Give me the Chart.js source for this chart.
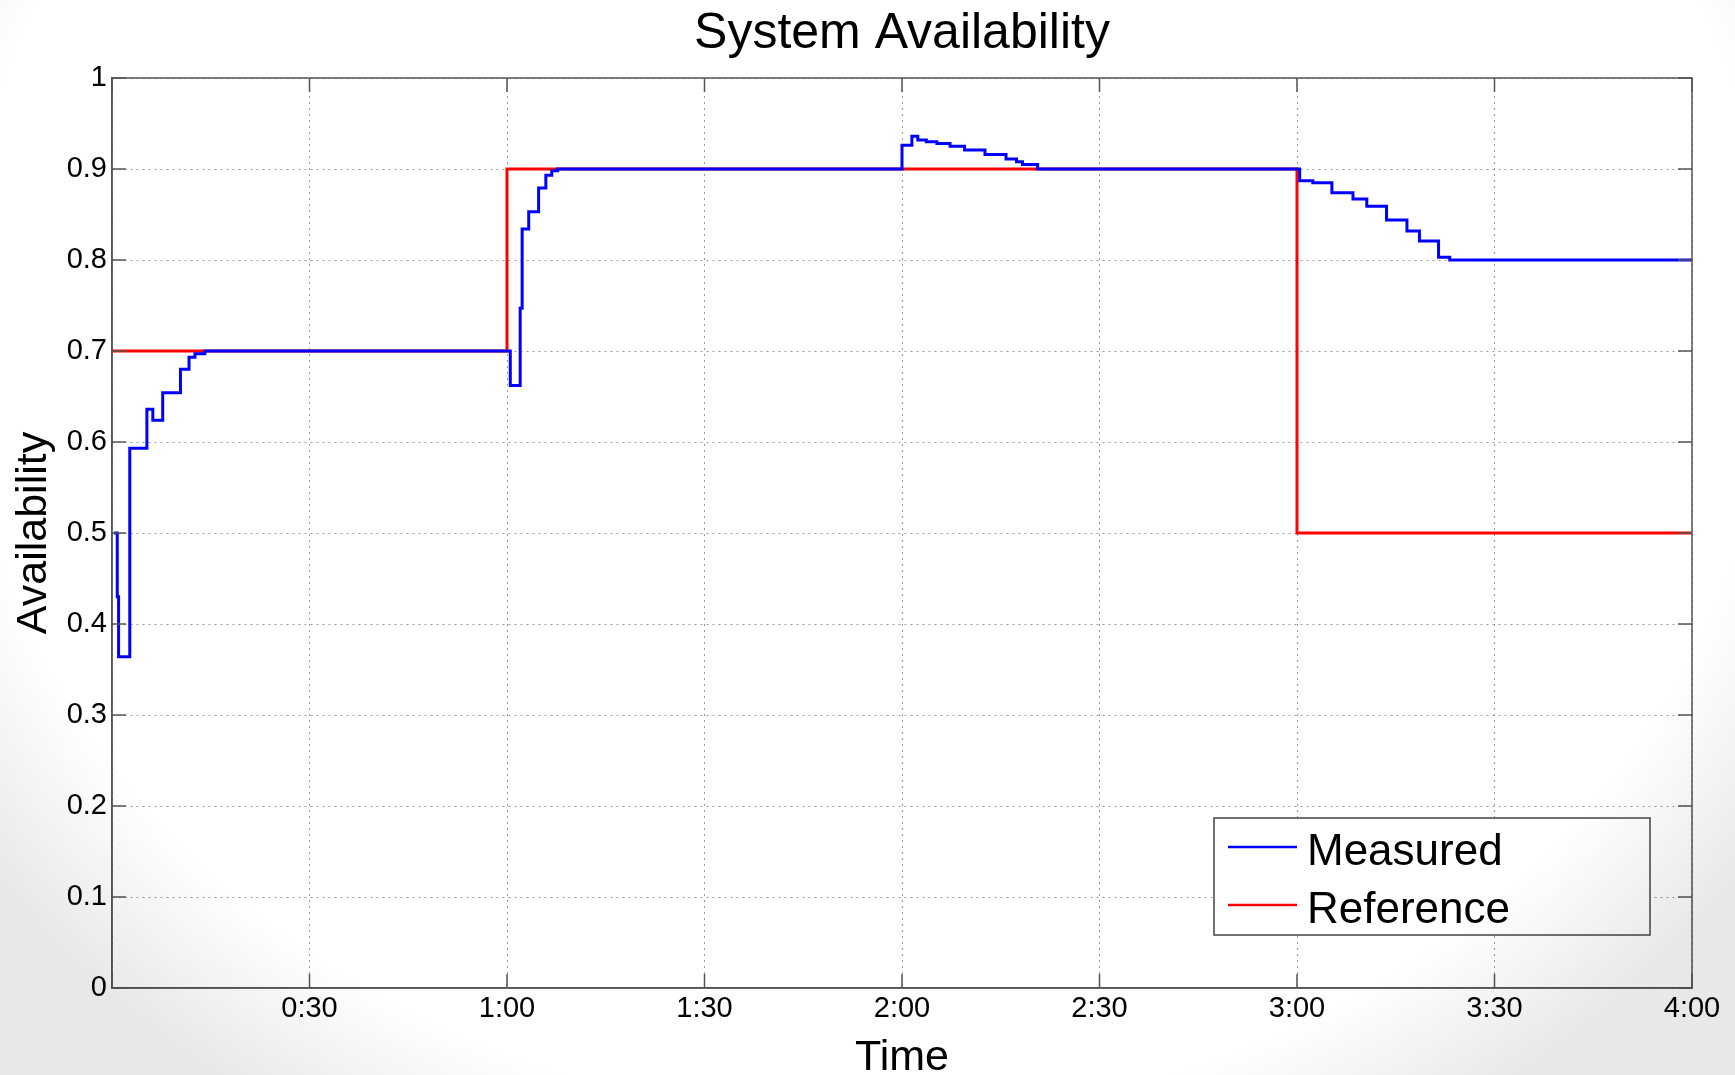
<!DOCTYPE html>
<html>
<head>
<meta charset="utf-8">
<script src="https://cdn.jsdelivr.net/npm/chart.js@4.4.1/dist/chart.umd.min.js"></script>
<style>
  html, body { margin: 0; padding: 0; background: #fff; }
  #wrap { position: relative; width: 1735px; height: 1075px; }
  #shade {
    position: absolute; left: 0; top: 0; width: 1735px; height: 1075px; pointer-events: none;
    background: radial-gradient(ellipse 62% 88% at 50% 30%, rgba(0,0,0,0) 84%, rgba(0,0,0,0.09) 100%);
    mix-blend-mode: multiply;
  }
</style>
</head>
<body>
<div id="wrap">
  <canvas id="availChart" width="1735" height="1075"></canvas>
  <div id="shade"></div>
</div>
<script>
// time in minutes, availability values
const measuredTimes = [0.3, 0.8, 1.0, 2.7, 5.3, 6.2, 7.7, 10.4, 11.7, 12.6, 14.1,
  60.5, 62.0, 62.3, 63.3, 64.8, 65.9, 66.8, 67.7,
  120.0, 121.5, 122.4, 123.7, 125.3, 127.3, 129.5, 132.6, 135.8, 137.4, 138.3, 140.6,
  180.4, 182.4, 185.3, 188.5, 190.6, 193.6, 196.7, 198.6, 201.5, 203.2, 240];
const measuredValues = [0.50, 0.43, 0.364, 0.593, 0.636, 0.624, 0.654, 0.680, 0.693, 0.697, 0.700,
  0.662, 0.747, 0.834, 0.853, 0.879, 0.893, 0.898, 0.900,
  0.926, 0.936, 0.932, 0.930, 0.928, 0.925, 0.921, 0.916, 0.911, 0.908, 0.905, 0.900,
  0.887, 0.885, 0.874, 0.867, 0.859, 0.844, 0.832, 0.821, 0.803, 0.800, 0.800];

const referenceTimes = [0, 60, 180, 240];
const referenceValues = [0.7, 0.9, 0.5, 0.5];

const timeTicks = [0, 30, 60, 90, 120, 150, 180, 210, 240];
const timeLabels = ["", "0:30", "1:00", "1:30", "2:00", "2:30", "3:00", "3:30", "4:00"];

const FONT = '"Liberation Sans", Arial, Helvetica, sans-serif';

function toPoints(xs, ys) {
  return xs.map((x, i) => ({ x: x, y: ys[i] }));
}

// box around the plot with inward tick marks on every side
const boxPlugin = {
  id: "box",
  afterDraw(chart) {
    const { ctx, chartArea: a, scales } = chart;
    const len = 14;
    ctx.save();
    ctx.strokeStyle = "#555";
    ctx.lineWidth = 1.5;
    ctx.strokeRect(a.left, a.top, a.right - a.left, a.bottom - a.top);
    ctx.beginPath();
    scales.x.ticks.forEach((t) => {
      const px = scales.x.getPixelForValue(t.value);
      ctx.moveTo(px, a.bottom); ctx.lineTo(px, a.bottom - len);
      ctx.moveTo(px, a.top); ctx.lineTo(px, a.top + len);
    });
    scales.y.ticks.forEach((t) => {
      const py = scales.y.getPixelForValue(t.value);
      ctx.moveTo(a.left, py); ctx.lineTo(a.left + len, py);
      ctx.moveTo(a.right, py); ctx.lineTo(a.right - len, py);
    });
    ctx.stroke();
    ctx.restore();
  }
};

// matlab style legend inside the lower right corner
const legendBoxPlugin = {
  id: "legendBox",
  afterDraw(chart) {
    const { ctx, chartArea: a } = chart;
    const w = 436, h = 117;
    const x = a.right - 42 - w;
    const y = a.bottom - 53 - h;
    ctx.save();
    ctx.fillStyle = "#fff";
    ctx.fillRect(x, y, w, h);
    ctx.strokeStyle = "#444";
    ctx.lineWidth = 1.5;
    ctx.strokeRect(x, y, w, h);
    ctx.font = "44px " + FONT;
    ctx.textBaseline = "alphabetic";
    ctx.fillStyle = "#000";
    chart.data.datasets.forEach((ds, i) => {
      const ly = y + 29 + i * 58;
      ctx.strokeStyle = ds.borderColor;
      ctx.lineWidth = 2.5;
      ctx.beginPath();
      ctx.moveTo(x + 14, ly);
      ctx.lineTo(x + 83, ly);
      ctx.stroke();
      ctx.fillText(ds.label, x + 93, ly + 18);
    });
    ctx.restore();
  }
};

new Chart(document.getElementById("availChart"), {
  type: "line",
  data: {
    datasets: [
      {
        label: "Measured",
        data: toPoints(measuredTimes, measuredValues),
        borderColor: "#0000ff",
        borderWidth: 3,
        stepped: "before",
        pointRadius: 0,
        fill: false
      },
      {
        label: "Reference",
        data: toPoints(referenceTimes, referenceValues),
        borderColor: "#ff0000",
        borderWidth: 3,
        stepped: "before",
        pointRadius: 0,
        fill: false
      }
    ]
  },
  options: {
    responsive: false,
    animation: false,
    layout: { padding: { left: 0, right: 43, top: 0, bottom: 0 } },
    plugins: {
      legend: { display: false },
      tooltip: { enabled: false },
      title: {
        display: true,
        text: "System Availability",
        fullSize: false,
        color: "#000",
        font: { family: FONT, size: 50, weight: "normal", lineHeight: 1.1 },
        padding: { top: 7, bottom: 16 }
      }
    },
    scales: {
      x: {
        type: "linear",
        min: 0,
        max: 240,
        afterBuildTicks: (scale) => { scale.ticks = timeTicks.map((v) => ({ value: v })); },
        afterFit: (scale) => { scale.height = 87; },
        ticks: {
          color: "#000",
          padding: 4,
          maxRotation: 0,
          font: { family: FONT, size: 29 },
          callback: (value) => timeLabels[timeTicks.indexOf(value)]
        },
        grid: { color: "#9a9a9a", lineWidth: 1, drawTicks: false },
        border: { color: "#555", width: 1.5, dash: [2, 4] },
        title: {
          display: true,
          text: "Time",
          color: "#000",
          font: { family: FONT, size: 43, lineHeight: 0.8 },
          padding: 0
        }
      },
      y: {
        min: 0,
        max: 1,
        afterFit: (scale) => { scale.width = 112; },
        ticks: {
          stepSize: 0.1,
          color: "#000",
          padding: 5,
          font: { family: FONT, size: 29 },
          callback: (value) => String(Number(value.toFixed(1)))
        },
        grid: { color: "#9a9a9a", lineWidth: 1, drawTicks: false },
        border: { color: "#555", width: 1.5, dash: [2, 4] },
        title: {
          display: true,
          text: "Availability",
          color: "#000",
          font: { family: FONT, size: 43, lineHeight: 1.2 },
          padding: { top: 8, bottom: 0 }
        }
      }
    }
  },
  plugins: [boxPlugin, legendBoxPlugin]
});
</script>
</body>
</html>
